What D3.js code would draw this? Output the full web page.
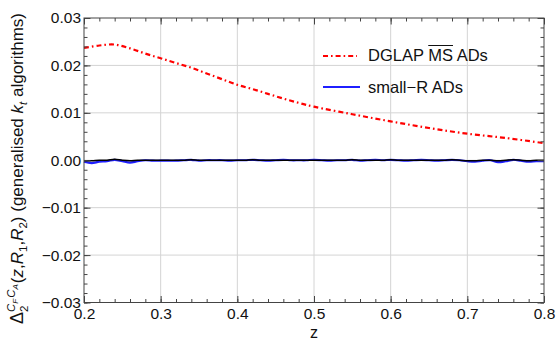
<!DOCTYPE html>
<html>
<head>
<meta charset="utf-8">
<script src="https://cdn.jsdelivr.net/npm/d3@7"></script>
<style>
  body { margin: 0; background: #fff; }
  text { font-family: "Liberation Sans", Arial, sans-serif; fill: #111; white-space: pre; }
</style>
</head>
<body>
<div id="chart"></div>
<script>
// DGLAP MS-bar ADs (red, dash-dot)
var zRed = [0.20, 0.22, 0.24, 0.26, 0.28, 0.30, 0.32, 0.34, 0.36, 0.38, 0.40, 0.42, 0.44, 0.46, 0.48, 0.50, 0.55, 0.60, 0.65, 0.70, 0.75, 0.80];
var redVals = [0.0237, 0.0242, 0.0244, 0.0236, 0.0225, 0.0215, 0.0205, 0.0195, 0.0183, 0.0171, 0.0159, 0.0150, 0.0140, 0.0130, 0.0121, 0.0113, 0.0097, 0.0082, 0.0068, 0.0056, 0.0047, 0.0036];

// small-R ADs (blue) and the black reference curve, sampled every 0.01 in z
var zSmall = d3.range(61).map(function(i) { return +(0.2 + i * 0.01).toFixed(2); });
var blueVals = [-0.0003, -0.0006, -0.0003, -0.0002, 0.0001, -0.0002, -0.0005, -0.0002, 0.0000, -0.0001,
                -0.0001, -0.0001, -0.0001, 0.0000, 0.0001, -0.0001, 0.0000, 0.0000, 0.0000, -0.0001,
                0.0000, 0.0000, 0.0001, 0.0000, -0.0001, 0.0000, 0.0001, 0.0000, 0.0000, 0.0000,
                0.0001, 0.0000, -0.0001, 0.0000, 0.0000, 0.0001, -0.0001, 0.0000, 0.0001, 0.0000,
                0.0001, 0.0000, -0.0001, 0.0000, 0.0001, 0.0000, -0.0001, 0.0000, 0.0001, 0.0000,
                -0.0002, -0.0003, -0.0001, 0.0000, -0.0004, -0.0002, 0.0001, -0.0001, -0.0003, -0.0002, -0.0002];
var blackVals = [-0.0001, -0.0001, 0.0000, 0.0000, 0.0002, 0.0000, -0.0001, 0.0000, 0.0000, 0.0000,
                 0.0000, 0.0000, 0.0000, 0.0000, 0.0001, 0.0000, 0.0000, 0.0000, 0.0000, 0.0000,
                 0.0000, 0.0000, 0.0001, 0.0000, 0.0000, 0.0000, 0.0000, 0.0000, 0.0000, 0.0000,
                 0.0000, 0.0000, 0.0000, 0.0000, 0.0000, 0.0001, 0.0000, 0.0000, 0.0000, 0.0000,
                 0.0001, 0.0000, 0.0000, 0.0000, 0.0000, 0.0000, 0.0000, 0.0000, 0.0001, 0.0000,
                 -0.0001, -0.0001, 0.0000, 0.0000, -0.0001, 0.0000, 0.0001, 0.0000, -0.0001, 0.0000, 0.0000];

var xTicks = [0.2, 0.3, 0.4, 0.5, 0.6, 0.7, 0.8];
var yTicks = [-0.03, -0.02, -0.01, 0.00, 0.01, 0.02, 0.03];

var width = 556, height = 341;
var mLeft = 84, mRight = 544, mTop = 18, mBottom = 302.5;

var svg = d3.select("#chart").append("svg")
  .attr("width", width)
  .attr("height", height);

var x = d3.scaleLinear().domain([0.2, 0.8]).range([mLeft, mRight]);
var y = d3.scaleLinear().domain([-0.03, 0.03]).range([mBottom, mTop]);

/* grid */
var grid = svg.append("g").attr("stroke", "#d4d4d4").attr("stroke-width", 1);
grid.selectAll(".gx").data(xTicks.slice(1, -1)).enter().append("line")
  .attr("x1", d => x(d)).attr("x2", d => x(d))
  .attr("y1", mTop).attr("y2", mBottom);
grid.selectAll(".gy").data(yTicks.slice(1, -1)).enter().append("line")
  .attr("y1", d => y(d)).attr("y2", d => y(d))
  .attr("x1", mLeft).attr("x2", mRight);

/* curves */
var lineRed = d3.line().x((d, i) => x(zRed[i])).y(d => y(d)).curve(d3.curveCatmullRom);
var lineSmall = d3.line().x((d, i) => x(zSmall[i])).y(d => y(d)).curve(d3.curveCatmullRom);

svg.append("path").attr("d", lineSmall(blueVals))
  .attr("fill", "none").attr("stroke", "#1f1fff").attr("stroke-width", 2.2);
svg.append("path").attr("d", lineSmall(blackVals))
  .attr("fill", "none").attr("stroke", "#000").attr("stroke-width", 1.6);
svg.append("path").attr("d", lineRed(redVals))
  .attr("fill", "none").attr("stroke", "#ff0000").attr("stroke-width", 2.2)
  .attr("stroke-dasharray", "5,3,1.6,3");

/* axes (ticks inside on all four sides) */
function frameAxis(axis, tx, ty, ticks, minor, labels) {
  var g = svg.append("g").attr("transform", "translate(" + tx + "," + ty + ")");
  g.call(axis.tickValues(minor).tickSize(3.5).tickFormat(""));
  g.select(".domain").remove();
  var g2 = svg.append("g").attr("transform", "translate(" + tx + "," + ty + ")");
  g2.call(axis.tickValues(ticks).tickSize(6.5).tickPadding(4)
    .tickFormat(labels ? labels : ""));
  g2.select(".domain").remove();
  [g, g2].forEach(function(s) {
    s.selectAll("line").attr("stroke", "#444");
    s.selectAll("text").attr("font-size", 15.5)
      .attr("font-family", "Liberation Sans, Arial, sans-serif").attr("fill", "#111");
  });
  return g2;
}
var xMinor = d3.range(0, 31).map(i => 0.2 + i * 0.02);
var yMinor = d3.range(0, 31).map(i => -0.03 + i * 0.002);

var xb = frameAxis(d3.axisTop(x), 0, mBottom, xTicks, xMinor, d3.format(".1f"));
xb.selectAll("text").attr("dy", null).attr("y", 16);
frameAxis(d3.axisBottom(x), 0, mTop, xTicks, xMinor, null);
var yl = frameAxis(d3.axisRight(y), mLeft, 0, yTicks, yMinor, d => d3.format(".2f")(d).replace("-", "\u2212"));
yl.selectAll("text").attr("x", -3).attr("text-anchor", "end");
frameAxis(d3.axisLeft(y), mRight, 0, yTicks, yMinor, null);

svg.append("rect")
  .attr("x", mLeft).attr("y", mTop)
  .attr("width", mRight - mLeft).attr("height", mBottom - mTop)
  .attr("fill", "none").attr("stroke", "#444").attr("stroke-width", 1);

/* axis labels */
svg.append("text").attr("x", x(0.5)).attr("y", 338)
  .attr("text-anchor", "middle").attr("font-size", 16).text("z");

var yt = svg.append("text")
  .attr("transform", "translate(23,168.5) rotate(-90)")
  .attr("text-anchor", "middle")
  .attr("font-size", 17);
var parts = [
  ["\u0394", 18, 0, 0, false],
  ["2", 11.5, 4.5, 0, false],
  ["C", 11.5, -12.5, -6.4, true],
  ["F", 8, 2.5, 0, true],
  ["C", 11.5, -2.5, 1, true],
  ["A", 8, 2.5, 0, true],
  ["(", 17, 5.5, 1, false],
  ["z", 17, 0, 0, true],
  [",", 17, 0, 0, false],
  ["R", 17, 0, 0, true],
  ["1", 11.5, 3.5, 0, false],
  [",", 17, -3.5, 0, false],
  ["R", 17, 0, 0, true],
  ["2", 11.5, 3.5, 0, false],
  [") (generalised ", 17, -3.5, 0, false],
  ["k", 17, 0, 0, true],
  ["t", 11.5, 3.5, 0, true],
  [" algorithms)", 17, -3.5, 0, false]
];
parts.forEach(function(p) {
  yt.append("tspan").text(p[0])
    .attr("font-size", p[1])
    .attr("dy", p[2])
    .attr("dx", p[3])
    .attr("font-style", p[4] ? "italic" : "normal");
});

/* legend */
var fsLeg = 16.5;
var leg = svg.append("g");
leg.append("line").attr("x1", 323).attr("x2", 357).attr("y1", 56).attr("y2", 56)
  .attr("stroke", "#ff0000").attr("stroke-width", 2).attr("stroke-dasharray", "5,3,1.6,3");
leg.append("line").attr("x1", 323).attr("x2", 360).attr("y1", 87).attr("y2", 87)
  .attr("stroke", "#1f1fff").attr("stroke-width", 2.2);

var t1 = leg.append("text").attr("x", 368).attr("y", 61).attr("font-size", fsLeg).text("DGLAP ");
var w1 = t1.node().getComputedTextLength();
var t2 = leg.append("text").attr("x", 368 + w1).attr("y", 61).attr("font-size", fsLeg).text("MS");
var w2 = t2.node().getComputedTextLength();
leg.append("text").attr("x", 368 + w1 + w2).attr("y", 61).attr("font-size", fsLeg).text(" ADs");
leg.append("line").attr("x1", 368 + w1).attr("x2", 368 + w1 + w2)
  .attr("y1", 45.5).attr("y2", 45.5).attr("stroke", "#111").attr("stroke-width", 1);

leg.append("text").attr("x", 368).attr("y", 92.5).attr("font-size", fsLeg).text("small\u2212R ADs");
</script>
</body>
</html>
